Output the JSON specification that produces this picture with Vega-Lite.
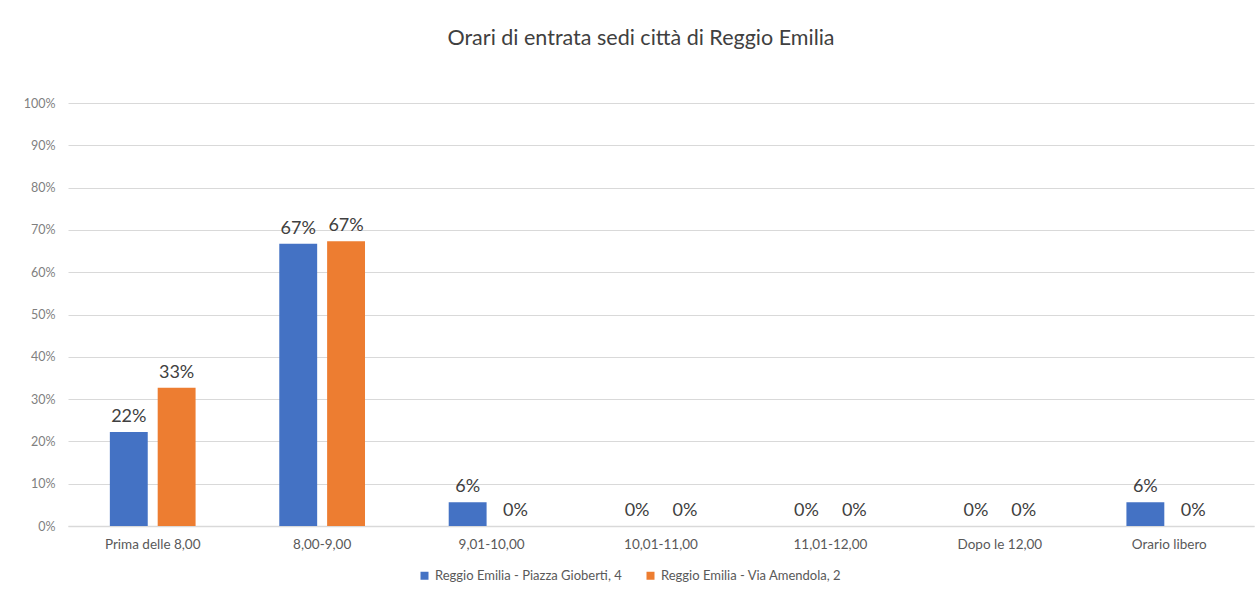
{
  "$schema": "https://vega.github.io/schema/vega-lite/v6.json",
  "autosize": "none",
  "width": 1186,
  "height": 423,
  "padding": {"left": 68, "top": 103, "right": 6, "bottom": 68},
  "background": "white",
  "config": {"view": {"stroke": null}},
  "title": {
    "text": "Orari di entrata sedi città di Reggio Emilia",
    "fontSize": 21.5,
    "font": "Lato",
    "fontWeight": "normal",
    "color": "#404040",
    "anchor": "middle",
    "dx": -20,
    "offset": 48
  },
  "data": {
    "values": [
      {"fascia": "Prima delle 8,00", "sede": "Reggio Emilia - Piazza Gioberti, 4", "valore": 0.222},
      {"fascia": "Prima delle 8,00", "sede": "Reggio Emilia - Via Amendola, 2", "valore": 0.327},
      {"fascia": "8,00-9,00", "sede": "Reggio Emilia - Piazza Gioberti, 4", "valore": 0.667},
      {"fascia": "8,00-9,00", "sede": "Reggio Emilia - Via Amendola, 2", "valore": 0.673},
      {"fascia": "9,01-10,00", "sede": "Reggio Emilia - Piazza Gioberti, 4", "valore": 0.056},
      {"fascia": "9,01-10,00", "sede": "Reggio Emilia - Via Amendola, 2", "valore": 0},
      {"fascia": "10,01-11,00", "sede": "Reggio Emilia - Piazza Gioberti, 4", "valore": 0},
      {"fascia": "10,01-11,00", "sede": "Reggio Emilia - Via Amendola, 2", "valore": 0},
      {"fascia": "11,01-12,00", "sede": "Reggio Emilia - Piazza Gioberti, 4", "valore": 0},
      {"fascia": "11,01-12,00", "sede": "Reggio Emilia - Via Amendola, 2", "valore": 0},
      {"fascia": "Dopo le 12,00", "sede": "Reggio Emilia - Piazza Gioberti, 4", "valore": 0},
      {"fascia": "Dopo le 12,00", "sede": "Reggio Emilia - Via Amendola, 2", "valore": 0},
      {"fascia": "Orario libero", "sede": "Reggio Emilia - Piazza Gioberti, 4", "valore": 0.056},
      {"fascia": "Orario libero", "sede": "Reggio Emilia - Via Amendola, 2", "valore": 0}
    ]
  },
  "encoding": {
    "x": {
      "field": "fascia",
      "type": "nominal",
      "sort": null,
      "scale": {"paddingInner": 0.494, "paddingOuter": 0.247},
      "axis": {
        "title": null,
        "labelAngle": 0,
        "ticks": false,
        "domainColor": "#d9d9d9",
        "domainWidth": 1.5,
        "labelColor": "#595959",
        "labelFontSize": 13.5,
        "labelFont": "Lato",
        "labelPadding": 11
      }
    },
    "xOffset": {
      "field": "sede",
      "type": "nominal",
      "scale": {"paddingInner": 0.208, "paddingOuter": 0}
    },
    "y": {
      "field": "valore",
      "type": "quantitative",
      "scale": {"domain": [0, 1], "nice": false},
      "axis": {
        "title": null,
        "format": ".0%",
        "values": [0, 0.1, 0.2, 0.3, 0.4, 0.5, 0.6, 0.7, 0.8, 0.9, 1],
        "labelOverlap": false,
        "domain": false,
        "ticks": false,
        "gridColor": "#d9d9d9",
        "gridWidth": 1.2,
        "labelColor": "#7f7f7f",
        "labelFontSize": 12.5,
        "labelFont": "Lato",
        "labelPadding": 13
      }
    }
  },
  "layer": [
    {
      "mark": {"type": "bar"},
      "encoding": {
        "color": {
          "field": "sede",
          "type": "nominal",
          "scale": {"range": ["#4472C4", "#ED7D31"]},
          "legend": {
            "title": null,
            "orient": "none",
            "legendX": 350,
            "legendY": 466,
            "direction": "horizontal",
            "symbolType": "square",
            "symbolSize": 64,
            "symbolStrokeWidth": 0,
            "labelFontSize": 13,
            "labelFont": "Lato",
            "labelColor": "#595959",
            "labelLimit": 400,
            "columnPadding": 22
          }
        }
      }
    },
    {
      "mark": {"type": "text", "baseline": "bottom", "dy": -6, "fontSize": 18, "font": "Lato", "color": "#404040"},
      "encoding": {
        "text": {"field": "valore", "type": "quantitative", "format": ".0%"}
      }
    }
  ]
}
